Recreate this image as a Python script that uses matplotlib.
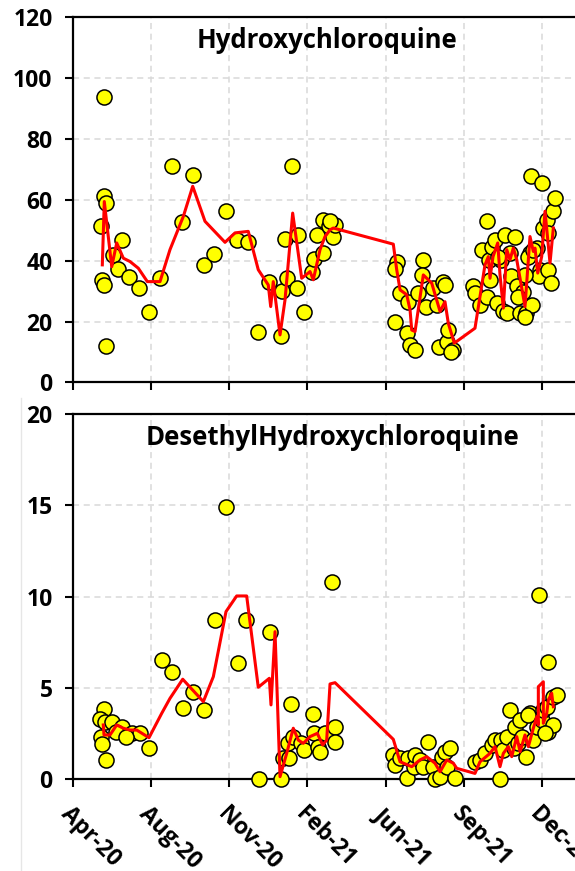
import matplotlib
matplotlib.use("Agg")
import matplotlib.pyplot as plt
import matplotlib.dates as mdates
from matplotlib.lines import Line2D
import numpy as np
import pandas as pd

plt.rcParams['font.family'] = ['Open Sans', 'DejaVu Sans']
plt.rcParams['font.weight'] = 'bold'

# ---------------- data ----------------
base_date = "2020-04-22"          # first axis tick (Apr-20)
tick_step_days = 103              # spacing between date ticks
tick_count = 7

# Hydroxychloroquine: sample day (days after base_date) and concentration
hcq_day = [40, 41, 43, 37, 64, 52, 59, 38, 41, 73, 87, 100, 43, 114, 130, 144, 158,
           172, 186, 202, 216, 230, 244, 258, 275, 282, 274, 295, 304, 288, 279, 296,
           315, 317, 330, 321, 330, 337, 343, 345, 339,
           427, 425, 431, 442, 425, 440, 444, 451, 462, 460, 455, 466, 475, 480, 488,
           490, 482, 493, 495, 501, 499,
           528, 530, 537, 539, 546, 546, 548, 550, 552, 557, 559, 565, 567, 570, 572,
           576, 577, 583, 585, 590, 594, 598, 603, 605, 612, 616, 614, 604, 618, 620,
           625, 627, 631, 633, 636, 626, 561, 587, 596, 596, 600, 607]
hcq_val = [93.7, 61.1, 58.9, 51.4, 46.8, 41.9, 37.2, 33.7, 32.0, 34.6, 31.0, 23.1, 12.0,
           34.2, 71.0, 52.8, 68.0, 38.4, 42.2, 56.2, 46.8, 46.0, 16.4, 33.1, 30.1, 34.2,
           15.3, 31.0, 23.1, 71.0, 47.2, 48.3, 36.4, 40.5, 42.5, 48.3, 53.4, 51.2, 47.7,
           51.8, 53.0,
           39.7, 37.2, 29.3, 26.5, 20.0, 16.2, 12.3, 10.7, 40.3, 35.3, 29.3, 24.9, 30.9,
           25.5, 33.1, 32.0, 11.7, 13.4, 17.2, 10.7, 10.1,
           31.5, 29.3, 25.5, 43.6, 52.9, 28.2, 40.3, 33.7, 44.6, 46.8, 26.0, 40.3, 23.3,
           48.5, 22.7, 42.5, 34.8, 47.9, 31.5, 22.7, 29.8, 22.7, 42.5, 25.5, 44.1, 37.0,
           34.8, 67.7, 65.5, 50.7, 53.4, 37.0, 32.6, 56.2, 60.6, 49.1, 41.3, 28.2, 21.6,
           35.3, 41.3, 43.6]

# Hydroxychloroquine trend line
hcq_trend_day = [38.3, 40.9, 50.7, 57.3, 66.0, 74.8, 85.8, 97.7, 114.4, 127.6, 145.2, 157.6,
                 173.8, 200.2, 213.4, 230.9, 244.1, 257.3, 260.5, 263.9, 272.8, 279.4,
                 289.5, 301.4, 312.4, 316.7, 325.6, 332.2, 338.8, 343.1, 422.3, 426.8,
                 431.2, 440.0, 444.4, 446.6, 451.0, 461.9, 473.0, 484.0, 490.5, 494.9,
                 502.8, 530.1, 543.3, 547.7, 549.9, 553.9, 560.1, 563.1, 567.5, 572.0,
                 576.3, 580.7, 585.2, 596.1, 602.7, 607.1, 609.3, 612.9, 618.1, 622.5,
                 629.1, 633.5]
hcq_trend_val = [38.6, 59.4, 38.0, 45.8, 40.8, 39.7, 37.5, 33.1, 33.1, 43.6, 54.5, 64.4,
                 52.9, 46.0, 49.1, 49.6, 37.0, 32.0, 24.9, 33.1, 15.6, 27.1, 55.6, 34.2,
                 36.4, 33.7, 43.6, 47.9, 50.1, 50.7, 45.4, 37.0, 30.4, 28.8, 23.8, 17.2,
                 16.7, 35.3, 32.6, 23.3, 26.5, 19.4, 12.9, 17.8, 38.6, 41.3, 34.2, 41.3,
                 45.8, 35.3, 24.4, 43.6, 40.3, 44.1, 40.3, 24.9, 47.9, 43.0, 44.1, 35.9,
                 41.3, 56.2, 39.2, 50.7]

# Desethylhydroxychloroquine
dhcq_day = [41, 35, 42, 51, 64, 78, 88, 57, 70, 37, 38, 43, 100, 117, 130, 158, 145, 172,
            187, 201, 217, 228, 260, 245, 274, 277, 284, 283, 287, 290, 301, 304, 317, 316,
            323, 326, 332, 341, 345, 345,
            422, 424, 431, 440, 442, 449, 451, 457, 462, 468, 475, 477, 484, 486, 490,
            493, 497, 504,
            530, 537, 543, 552, 557, 563, 565, 567, 572, 576, 581, 583, 587, 590, 592,
            598, 603, 607, 612, 614, 618, 620, 625, 627, 627, 633, 633, 638, 600, 622]
dhcq_val = [3.83, 3.28, 3.13, 3.13, 2.85, 2.49, 2.49, 2.58, 2.31, 2.31, 1.89, 1.03, 1.70,
            6.52, 5.87, 4.78, 3.90, 3.77, 8.71, 14.93, 6.37, 8.71, 8.07, 0.0, 0.0, 1.15,
            1.12, 1.94, 4.10, 2.31, 1.94, 1.58, 2.49, 3.53, 1.76, 1.48, 2.49, 10.81, 2.85,
            2.03,
            1.30, 0.75, 1.12, 0.02, 1.12, 0.66, 1.30, 1.03, 0.66, 2.03, 0.66, 0.0, 0.11,
            1.21, 1.48, 0.66, 1.67, 0.02,
            0.93, 1.03, 1.39, 1.85, 2.12, 0.0, 2.12, 1.58, 2.31, 3.77, 1.67, 2.85, 1.94,
            3.22, 2.31, 1.21, 3.59, 2.12, 2.85, 10.08, 3.22, 3.77, 3.95, 2.58, 6.42, 4.50,
            2.95, 4.59, 3.50, 2.49]

dhcq_trend_day = [39.6, 40.5, 48.4, 57.3, 66.0, 74.8, 83.7, 99.9, 116.7, 127.6, 144.4,
                  171.6, 184.8, 201.5, 215.6, 228.8, 244.1, 258.7, 260.9, 266.2, 272.8,
                  281.6, 290.3, 296.9, 303.5, 312.4, 322.0, 329.1, 334.4, 338.8, 345.4,
                  422.3, 431.2, 446.6, 457.5, 466.4, 477.3, 484.0, 492.8, 501.5, 506.0,
                  530.1, 536.7, 549.9, 556.5, 563.1, 567.5, 574.1, 578.6, 585.2, 589.6,
                  596.1, 600.5, 607.1, 611.6, 613.7, 613.7, 620.3, 620.3, 624.8, 626.9,
                  631.3, 633.5]
dhcq_trend_val = [2.95, 2.40, 2.40, 2.95, 2.77, 2.67, 2.67, 2.25, 3.59, 4.41, 5.46, 4.23,
                  5.60, 9.17, 10.03, 10.03, 5.02, 5.51, 4.05, 8.07, 0.11, 1.39, 2.77, 2.12,
                  1.94, 2.31, 2.49, 1.85, 2.12, 5.20, 5.27, 2.16, 0.93, 0.66, 1.03, 1.21,
                  0.85, 0.38, 1.03, 0.85, 0.57, 0.29, 0.93, 1.39, 1.76, 0.66, 1.39, 1.76,
                  1.21, 2.31, 1.48, 2.40, 1.76, 2.77, 3.40, 2.95, 5.05, 5.32, 3.04, 3.59,
                  4.32, 4.69, 3.95]

titles = ["Hydroxychloroquine", "DesethylHydroxychloroquine"]
y_max = [120, 20]
y_step = [20, 5]

# ---------------- helpers ----------------
base = pd.Timestamp(base_date)


def to_num(days):
    d = base + pd.to_timedelta(np.asarray(days, dtype=float), unit="D")
    return mdates.date2num(d.to_pydatetime())


tick_nums = to_num([k * tick_step_days for k in range(tick_count)])
tick_labels = [mdates.num2date(t).strftime("%b-%y") for t in tick_nums]

W, H = 575, 871
fig = plt.figure(figsize=(W / 100, H / 100), dpi=100)

ax_left_px, ax_right_px = 73.3, 590
panels = [(17.0, 382.4), (414.3, 778.7)]
px_per_day = 78.05 / tick_step_days
x_min = to_num([0])[0]
x_max = to_num([(ax_right_px - ax_left_px) / px_per_day])[0]

series = [(hcq_day, hcq_val, hcq_trend_day, hcq_trend_val),
          (dhcq_day, dhcq_val, dhcq_trend_day, dhcq_trend_val)]

# faint frame line of the lower chart object
fig.add_artist(Line2D([21 / W, 21 / W], [0, 1 - 398 / H], color="#E6E6E6", lw=1.0))

tick_fs = 16.5
for i, (top_px, bot_px) in enumerate(panels):
    ax = fig.add_axes([ax_left_px / W, 1 - bot_px / H,
                       (ax_right_px - ax_left_px) / W, (bot_px - top_px) / H])
    d, v, td, tv = series[i]
    ax.scatter(to_num(d), v, s=118, facecolor="#FFFF00", edgecolor="black",
               linewidth=1.1, zorder=3, clip_on=False)
    ax.plot(to_num(td), tv, color="#FF0000", lw=2.2, zorder=4, clip_on=False)

    ax.set_xlim(x_min, x_max)
    ax.set_ylim(0, y_max[i])
    ax.set_yticks(np.arange(0, y_max[i] + 0.1, y_step[i]))
    ax.set_xticks(tick_nums)
    if i == 1:
        ax.set_xticklabels(tick_labels, rotation=-45, ha="left", va="top",
                           rotation_mode="anchor", fontsize=tick_fs, fontweight="bold")
    else:
        ax.set_xticklabels([])
    ax.set_yticklabels([f"{int(t)}" for t in ax.get_yticks()], fontsize=tick_fs,
                       fontweight="bold")
    ax.tick_params(axis="both", direction="out", length=6, width=1.5, color="black")
    ax.tick_params(axis="y", pad=9)
    ax.tick_params(axis="x", pad=11)

    ax.grid(True, color="#D9D9D9", linestyle=(0, (4, 3)), linewidth=1.1, zorder=0)
    ax.set_axisbelow(True)
    for sp in ["left", "bottom", "top"]:
        ax.spines[sp].set_color("black")
        ax.spines[sp].set_linewidth(1.6)
    ax.spines["right"].set_visible(False)

    ax.text(0.491 if i == 0 else 0.502, 0.937, titles[i], transform=ax.transAxes,
            ha="center", va="center", fontsize=18.5, fontweight="bold", zorder=5)

fig.savefig("out.png", dpi=100)
